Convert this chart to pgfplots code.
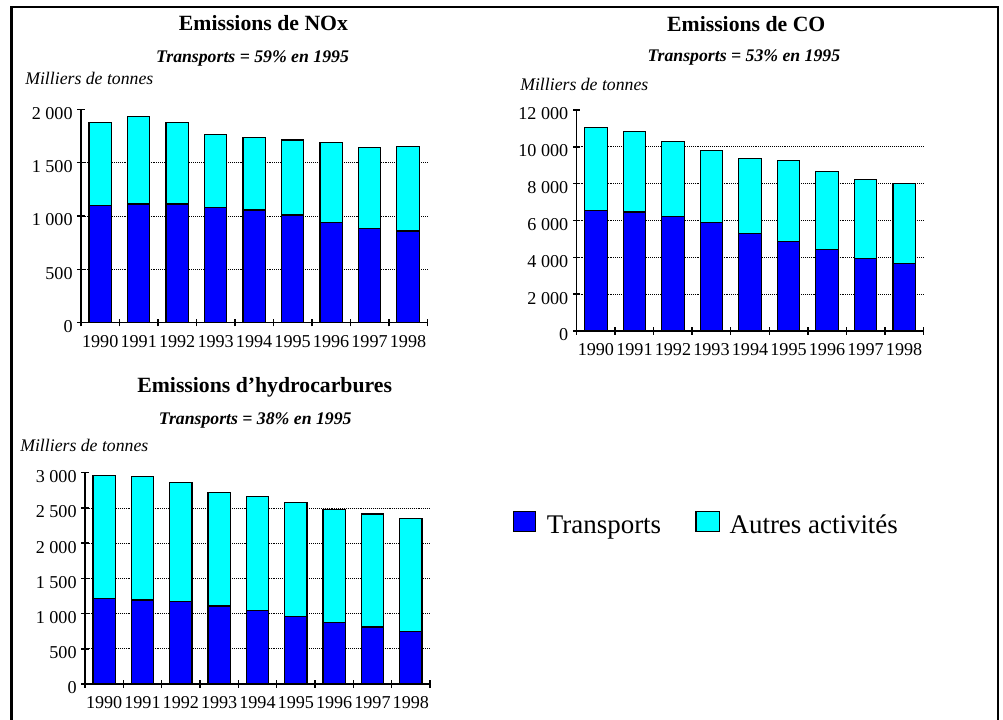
\documentclass[border=0pt]{standalone}
\usepackage{fontspec}
\setmainfont{Liberation Serif}
\usepackage{pgfplots}
\usepackage{pgfplotstable}
\pgfplotsset{compat=1.18}

\definecolor{tblue}{RGB}{0,0,255}
\definecolor{tcyan}{RGB}{0,255,255}

% i = position of the year, t = transports, a = autres activites (milliers de tonnes)
\pgfplotstableread{
i  t     a
1  1097  778
2  1112  822
3  1112  763
4  1081  681
5  1056  681
6  1009  703
7  941   746
8  884   757
9  859   791
}\nox
\pgfplotstableread{
i  t     a
1  6534  4507
2  6462  4362
3  6208  4091
4  5883  3909
5  5285  4073
6  4869  4398
7  4435  4235
8  3928  4308
9  3674  4326
}\co
\pgfplotstableread{
i  t     a
1  1211  1751
2  1192  1751
3  1169  1689
4  1107  1609
5  1046  1618
6  961   1618
7  875   1605
8  809   1604
9  748   1599
}\hc

\pgfplotsset{
  emis/.style={
    scale only axis, anchor=south west, clip=false,
    ybar stacked, bar width=0.58,
    xmin=0.5, xmax=9.5, ymin=0, enlargelimits=false,
    scaled y ticks=false,
    axis lines*=left,
    axis line style={black, line width=1.1pt},
    xtick={1,...,9},
    xticklabels={1990,1991,1992,1993,1994,1995,1996,1997,1998},
    major x tick style={draw=none},
    minor xtick={0.5,1.5,...,9.5},
    tick align=center,
    tick style={black, line width=1.1pt},
    major tick length=5.5pt, minor tick length=5.5pt,
    tick label style={font=\fontsize{13.6}{15}\selectfont},
    xticklabel style={yshift=-3pt},
    yticklabel style={yshift=-3pt},
    extra y tick labels={},
    extra y tick style={ymajorgrids=true, major tick length=0pt},
    major grid style={black, line width=0.55pt, dash pattern=on 0.55pt off 0.9pt},
  },
  tbar/.style={fill=tblue, draw=black, line width=0.9pt},
  abar/.style={fill=tcyan, draw=black, line width=0.9pt},
}

\newcommand{\ttl}{\fontsize{16.3}{19}\selectfont\bfseries}
\newcommand{\sub}{\fontsize{13.3}{16}\selectfont\bfseries\itshape}
\newcommand{\unit}{\fontsize{13.3}{16}\selectfont\itshape}

\begin{document}
\begin{tikzpicture}
\useasboundingbox (0,0) rectangle (752.25pt,540pt);

% frame open at the bottom
\draw[line width=1.9pt] (8.75pt,0pt) -- (8.75pt,534.6pt) -- (748.6pt,534.6pt) -- (748.6pt,0pt);

% NOx
\node[anchor=base] at (197.6pt,517pt) {\ttl Emissions de NOx};
\node[anchor=base] at (189.4pt,493pt) {\sub Transports = 59\% en 1995};
\node[anchor=base west, inner sep=0pt] at (18.75pt,476.3pt) {\unit Milliers de tonnes};
\begin{axis}[emis, at={(60.75pt,298pt)}, width=259.7pt, height=160pt,
  ymax=2000, ytick={0,500,...,2000},
  yticklabels={0,500,1\ 000,1\ 500,2\ 000},
  extra y ticks={500,1000,1500}]
  \addplot[tbar] table[x=i,y=t]{\nox};
  \addplot[abar] table[x=i,y=a]{\nox};
\end{axis}

% CO
\node[anchor=base] at (559.7pt,516.6pt) {\ttl Emissions de CO};
\node[anchor=base] at (557.9pt,493.7pt) {\sub Transports = 53\% en 1995};
\node[anchor=base west, inner sep=0pt] at (390pt,472pt) {\unit Milliers de tonnes};
\begin{axis}[emis, at={(432.5pt,291.75pt)}, width=260pt, height=165.75pt,
  ymax=12000, ytick={0,2000,...,12000},
  yticklabels={0,2\ 000,4\ 000,6\ 000,8\ 000,10\ 000,12\ 000},
  extra y ticks={2000,4000,6000,8000,10000}]
  \addplot[tbar] table[x=i,y=t]{\co};
  \addplot[abar] table[x=i,y=a]{\co};
\end{axis}

% hydrocarbures
\node[anchor=base] at (198.5pt,245.5pt) {\ttl Emissions d’hydrocarbures};
\node[anchor=base] at (191.4pt,221.25pt) {\sub Transports = 38\% en 1995};
\node[anchor=base west, inner sep=0pt] at (15pt,201.2pt) {\unit Milliers de tonnes};
\begin{axis}[emis, at={(63.75pt,27pt)}, width=258.75pt, height=158.5pt,
  ymax=3000, ytick={0,500,...,3000},
  yticklabels={0,500,1\ 000,1\ 500,2\ 000,2\ 500,3\ 000},
  extra y ticks={500,1000,1500,2000,2500}]
  \addplot[tbar] table[x=i,y=t]{\hc};
  \addplot[abar] table[x=i,y=a]{\hc};
\end{axis}

% legend
\draw[fill=tblue, line width=0.9pt] (385pt,141.2pt) rectangle (401.8pt,156.2pt);
\node[anchor=base west, inner sep=0pt] at (410pt,140pt) {\fontsize{20.2}{24}\selectfont Transports};
\draw[fill=tcyan, line width=0.9pt] (522pt,141.2pt) rectangle (539.5pt,156.2pt);
\node[anchor=base west, inner sep=0pt] at (547pt,140pt) {\fontsize{20.2}{24}\selectfont Autres activités};
\end{tikzpicture}
\end{document}
